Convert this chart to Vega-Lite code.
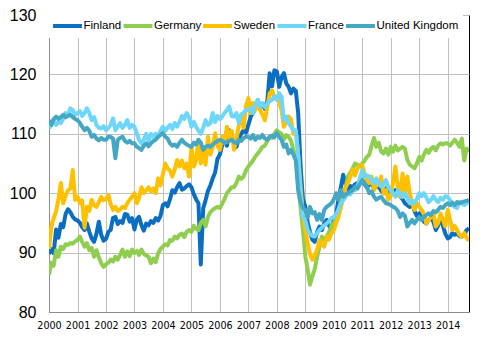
{
  "$schema": "https://vega.github.io/schema/vega-lite/v6.json",
  "width": 420,
  "height": 297,
  "autosize": {"type": "none"},
  "padding": {"left": 49, "top": 15, "right": 27, "bottom": 29},
  "background": "white",
  "config": {
    "view": {"stroke": "#000000", "strokeWidth": 1},
    "font": "Liberation Sans"
  },
  "data": {"values": [
    {"d":"2000-01","FI":89.8,"DE":86.3,"SE":90.6,"FR":110.9,"UK":112.3},
    {"d":"2000-02","FI":90.6,"DE":88.3,"SE":94.5,"FR":111.5,"UK":111.5},
    {"d":"2000-03","FI":89.9,"DE":87.8,"SE":95.8,"FR":112.3,"UK":112.5},
    {"d":"2000-04","FI":93.9,"DE":90.4,"SE":97.0,"FR":111.5,"UK":112.9},
    {"d":"2000-05","FI":92.5,"DE":89.3,"SE":98.9,"FR":112.0,"UK":112.5},
    {"d":"2000-06","FI":94.8,"DE":91.0,"SE":101.7,"FR":111.8,"UK":112.8},
    {"d":"2000-07","FI":94.3,"DE":90.6,"SE":98.3,"FR":112.5,"UK":113.2},
    {"d":"2000-08","FI":96.5,"DE":91.4,"SE":99.6,"FR":113.5,"UK":112.8},
    {"d":"2000-09","FI":97.3,"DE":91.3,"SE":100.5,"FR":113.2,"UK":113.0},
    {"d":"2000-10","FI":96.8,"DE":91.6,"SE":100.8,"FR":114.3,"UK":113.2},
    {"d":"2000-11","FI":96.0,"DE":91.5,"SE":103.9,"FR":114.0,"UK":112.8},
    {"d":"2000-12","FI":95.6,"DE":91.9,"SE":98.9,"FR":113.2,"UK":112.5},
    {"d":"2001-01","FI":95.4,"DE":92.1,"SE":99.4,"FR":113.5,"UK":112.3},
    {"d":"2001-02","FI":95.0,"DE":92.7,"SE":98.3,"FR":113.8,"UK":111.8},
    {"d":"2001-03","FI":94.3,"DE":91.8,"SE":98.8,"FR":113.0,"UK":111.2},
    {"d":"2001-04","FI":93.8,"DE":91.0,"SE":94.2,"FR":113.5,"UK":110.6},
    {"d":"2001-05","FI":94.9,"DE":91.6,"SE":97.7,"FR":114.3,"UK":111.0},
    {"d":"2001-06","FI":93.5,"DE":90.4,"SE":97.0,"FR":113.5,"UK":110.5},
    {"d":"2001-07","FI":92.4,"DE":90.8,"SE":98.9,"FR":112.3,"UK":109.5},
    {"d":"2001-08","FI":91.8,"DE":89.3,"SE":98.0,"FR":112.8,"UK":109.8},
    {"d":"2001-09","FI":93.2,"DE":90.4,"SE":97.7,"FR":111.5,"UK":109.2},
    {"d":"2001-10","FI":95.2,"DE":89.2,"SE":98.5,"FR":111.0,"UK":108.9},
    {"d":"2001-11","FI":93.0,"DE":88.2,"SE":99.4,"FR":110.9,"UK":109.3},
    {"d":"2001-12","FI":92.0,"DE":87.6,"SE":98.8,"FR":111.3,"UK":109.0},
    {"d":"2002-01","FI":92.3,"DE":88.0,"SE":99.0,"FR":110.6,"UK":109.0},
    {"d":"2002-02","FI":93.5,"DE":88.3,"SE":99.7,"FR":111.0,"UK":109.5},
    {"d":"2002-03","FI":93.8,"DE":88.8,"SE":98.2,"FR":111.5,"UK":109.5},
    {"d":"2002-04","FI":95.8,"DE":88.5,"SE":97.2,"FR":112.6,"UK":109.2},
    {"d":"2002-05","FI":96.0,"DE":89.3,"SE":97.7,"FR":110.6,"UK":105.9},
    {"d":"2002-06","FI":94.8,"DE":88.8,"SE":97.0,"FR":111.2,"UK":109.0},
    {"d":"2002-07","FI":95.3,"DE":89.6,"SE":97.2,"FR":111.8,"UK":109.3},
    {"d":"2002-08","FI":95.0,"DE":90.5,"SE":97.7,"FR":111.0,"UK":109.5},
    {"d":"2002-09","FI":96.5,"DE":89.3,"SE":97.5,"FR":111.5,"UK":108.8},
    {"d":"2002-10","FI":96.4,"DE":90.2,"SE":98.3,"FR":112.3,"UK":108.5},
    {"d":"2002-11","FI":95.2,"DE":89.4,"SE":98.9,"FR":111.0,"UK":108.8},
    {"d":"2002-12","FI":95.8,"DE":90.5,"SE":99.4,"FR":111.5,"UK":108.4},
    {"d":"2003-01","FI":93.9,"DE":89.9,"SE":100.0,"FR":111.2,"UK":108.4},
    {"d":"2003-02","FI":95.6,"DE":90.3,"SE":98.3,"FR":110.0,"UK":107.8},
    {"d":"2003-03","FI":96.0,"DE":89.6,"SE":99.2,"FR":109.0,"UK":107.6},
    {"d":"2003-04","FI":94.6,"DE":90.5,"SE":101.0,"FR":108.4,"UK":107.3},
    {"d":"2003-05","FI":93.7,"DE":89.8,"SE":100.0,"FR":109.0,"UK":108.0},
    {"d":"2003-06","FI":94.9,"DE":89.5,"SE":100.5,"FR":110.0,"UK":108.4},
    {"d":"2003-07","FI":94.6,"DE":89.3,"SE":101.0,"FR":108.8,"UK":107.9},
    {"d":"2003-08","FI":95.3,"DE":88.2,"SE":100.3,"FR":110.0,"UK":108.4},
    {"d":"2003-09","FI":95.0,"DE":89.0,"SE":100.8,"FR":109.5,"UK":108.8},
    {"d":"2003-10","FI":95.8,"DE":88.4,"SE":100.0,"FR":110.0,"UK":109.0},
    {"d":"2003-11","FI":95.4,"DE":89.9,"SE":102.5,"FR":109.5,"UK":109.5},
    {"d":"2003-12","FI":96.2,"DE":90.6,"SE":101.3,"FR":110.5,"UK":109.8},
    {"d":"2004-01","FI":98.0,"DE":91.0,"SE":103.3,"FR":111.2,"UK":110.1},
    {"d":"2004-02","FI":98.3,"DE":91.4,"SE":105.0,"FR":110.5,"UK":109.5},
    {"d":"2004-03","FI":97.8,"DE":91.2,"SE":104.2,"FR":111.0,"UK":109.2},
    {"d":"2004-04","FI":99.0,"DE":92.1,"SE":103.8,"FR":111.5,"UK":108.4},
    {"d":"2004-05","FI":100.5,"DE":92.0,"SE":102.8,"FR":110.8,"UK":108.0},
    {"d":"2004-06","FI":100.1,"DE":92.7,"SE":104.0,"FR":111.8,"UK":108.2},
    {"d":"2004-07","FI":101.0,"DE":92.4,"SE":105.6,"FR":111.2,"UK":107.8},
    {"d":"2004-08","FI":101.7,"DE":93.0,"SE":104.5,"FR":112.0,"UK":108.5},
    {"d":"2004-09","FI":100.6,"DE":93.2,"SE":105.5,"FR":113.0,"UK":109.0},
    {"d":"2004-10","FI":100.8,"DE":92.6,"SE":104.2,"FR":112.5,"UK":108.5},
    {"d":"2004-11","FI":101.2,"DE":93.5,"SE":105.0,"FR":113.5,"UK":108.2},
    {"d":"2004-12","FI":101.5,"DE":93.8,"SE":102.8,"FR":112.8,"UK":108.0},
    {"d":"2005-01","FI":101.0,"DE":93.5,"SE":107.8,"FR":111.2,"UK":107.8},
    {"d":"2005-02","FI":99.8,"DE":94.5,"SE":104.5,"FR":112.0,"UK":108.5},
    {"d":"2005-03","FI":99.0,"DE":94.0,"SE":105.5,"FR":111.2,"UK":108.2},
    {"d":"2005-04","FI":98.3,"DE":93.8,"SE":109.0,"FR":110.5,"UK":109.0},
    {"d":"2005-05","FI":88.0,"DE":95.0,"SE":105.0,"FR":110.0,"UK":108.5},
    {"d":"2005-06","FI":97.5,"DE":95.5,"SE":107.5,"FR":111.0,"UK":107.3},
    {"d":"2005-07","FI":98.8,"DE":94.4,"SE":104.8,"FR":112.3,"UK":107.8},
    {"d":"2005-08","FI":100.4,"DE":96.0,"SE":109.5,"FR":111.5,"UK":108.0},
    {"d":"2005-09","FI":101.3,"DE":96.8,"SE":106.5,"FR":111.8,"UK":107.8},
    {"d":"2005-10","FI":102.5,"DE":97.2,"SE":107.8,"FR":113.5,"UK":108.2},
    {"d":"2005-11","FI":103.5,"DE":97.5,"SE":110.1,"FR":112.0,"UK":108.5},
    {"d":"2005-12","FI":105.8,"DE":97.7,"SE":108.0,"FR":113.0,"UK":108.8},
    {"d":"2006-01","FI":106.5,"DE":97.5,"SE":107.3,"FR":112.5,"UK":109.0},
    {"d":"2006-02","FI":108.2,"DE":98.3,"SE":109.5,"FR":112.9,"UK":108.8},
    {"d":"2006-03","FI":109.0,"DE":99.0,"SE":108.5,"FR":113.5,"UK":108.5},
    {"d":"2006-04","FI":108.0,"DE":100.0,"SE":111.2,"FR":114.0,"UK":108.6},
    {"d":"2006-05","FI":110.6,"DE":100.5,"SE":109.2,"FR":114.6,"UK":108.8},
    {"d":"2006-06","FI":109.5,"DE":101.0,"SE":110.5,"FR":113.0,"UK":109.0},
    {"d":"2006-07","FI":108.8,"DE":101.0,"SE":107.3,"FR":112.9,"UK":108.6},
    {"d":"2006-08","FI":107.8,"DE":101.7,"SE":109.0,"FR":113.5,"UK":108.4},
    {"d":"2006-09","FI":109.2,"DE":102.8,"SE":111.5,"FR":111.8,"UK":109.0},
    {"d":"2006-10","FI":110.0,"DE":102.4,"SE":112.9,"FR":113.3,"UK":108.8},
    {"d":"2006-11","FI":110.6,"DE":102.8,"SE":111.0,"FR":113.5,"UK":109.3},
    {"d":"2006-12","FI":110.2,"DE":103.8,"SE":114.6,"FR":114.0,"UK":109.5},
    {"d":"2007-01","FI":111.5,"DE":104.5,"SE":116.0,"FR":114.0,"UK":109.5},
    {"d":"2007-02","FI":112.9,"DE":105.0,"SE":113.5,"FR":114.3,"UK":109.2},
    {"d":"2007-03","FI":113.5,"DE":105.5,"SE":115.2,"FR":113.5,"UK":109.8},
    {"d":"2007-04","FI":114.2,"DE":106.2,"SE":114.0,"FR":115.0,"UK":109.0},
    {"d":"2007-05","FI":115.7,"DE":106.7,"SE":115.5,"FR":115.7,"UK":109.5},
    {"d":"2007-06","FI":114.5,"DE":107.2,"SE":114.0,"FR":114.6,"UK":109.3},
    {"d":"2007-07","FI":115.1,"DE":107.8,"SE":113.2,"FR":115.1,"UK":109.8},
    {"d":"2007-08","FI":114.2,"DE":108.0,"SE":112.3,"FR":114.5,"UK":109.2},
    {"d":"2007-09","FI":115.5,"DE":108.8,"SE":114.5,"FR":115.1,"UK":109.0},
    {"d":"2007-10","FI":120.2,"DE":109.5,"SE":116.8,"FR":115.5,"UK":109.5},
    {"d":"2007-11","FI":118.0,"DE":109.3,"SE":117.3,"FR":115.7,"UK":109.7},
    {"d":"2007-12","FI":120.7,"DE":110.0,"SE":116.0,"FR":116.3,"UK":109.4},
    {"d":"2008-01","FI":120.5,"DE":110.6,"SE":116.3,"FR":115.7,"UK":110.1},
    {"d":"2008-02","FI":117.9,"DE":110.2,"SE":115.5,"FR":116.8,"UK":109.5},
    {"d":"2008-03","FI":119.5,"DE":110.0,"SE":114.0,"FR":116.3,"UK":109.0},
    {"d":"2008-04","FI":120.2,"DE":109.0,"SE":111.2,"FR":112.3,"UK":107.8},
    {"d":"2008-05","FI":118.5,"DE":109.8,"SE":112.0,"FR":112.9,"UK":108.2},
    {"d":"2008-06","FI":117.9,"DE":109.5,"SE":112.9,"FR":111.8,"UK":106.7},
    {"d":"2008-07","FI":116.8,"DE":108.8,"SE":112.5,"FR":111.2,"UK":107.3},
    {"d":"2008-08","FI":117.6,"DE":107.3,"SE":110.0,"FR":110.6,"UK":106.5},
    {"d":"2008-09","FI":117.2,"DE":106.0,"SE":110.5,"FR":110.6,"UK":105.5},
    {"d":"2008-10","FI":113.5,"DE":101.5,"SE":106.5,"FR":106.5,"UK":100.5},
    {"d":"2008-11","FI":104.5,"DE":97.5,"SE":101.0,"FR":100.0,"UK":98.5},
    {"d":"2008-12","FI":99.0,"DE":93.8,"SE":96.5,"FR":96.0,"UK":97.5},
    {"d":"2009-01","FI":97.7,"DE":89.3,"SE":93.8,"FR":95.5,"UK":97.2},
    {"d":"2009-02","FI":95.0,"DE":87.1,"SE":91.5,"FR":93.8,"UK":96.0},
    {"d":"2009-03","FI":93.5,"DE":84.6,"SE":89.8,"FR":93.2,"UK":97.7},
    {"d":"2009-04","FI":92.2,"DE":86.0,"SE":88.8,"FR":92.8,"UK":96.6},
    {"d":"2009-05","FI":91.8,"DE":87.2,"SE":89.5,"FR":92.7,"UK":96.8},
    {"d":"2009-06","FI":93.5,"DE":89.3,"SE":90.5,"FR":93.3,"UK":95.5},
    {"d":"2009-07","FI":94.4,"DE":91.0,"SE":92.1,"FR":93.8,"UK":96.5},
    {"d":"2009-08","FI":93.8,"DE":92.7,"SE":91.5,"FR":94.2,"UK":95.5},
    {"d":"2009-09","FI":95.0,"DE":92.2,"SE":91.0,"FR":94.6,"UK":97.2},
    {"d":"2009-10","FI":95.5,"DE":92.7,"SE":92.7,"FR":94.9,"UK":97.7},
    {"d":"2009-11","FI":94.5,"DE":93.5,"SE":92.2,"FR":95.3,"UK":98.0},
    {"d":"2009-12","FI":93.8,"DE":94.5,"SE":93.2,"FR":95.8,"UK":98.3},
    {"d":"2010-01","FI":95.5,"DE":95.0,"SE":93.8,"FR":96.0,"UK":99.0},
    {"d":"2010-02","FI":96.6,"DE":95.8,"SE":95.0,"FR":96.5,"UK":100.0},
    {"d":"2010-03","FI":98.9,"DE":97.2,"SE":96.0,"FR":97.2,"UK":98.9},
    {"d":"2010-04","FI":101.0,"DE":98.5,"SE":97.5,"FR":98.3,"UK":100.5},
    {"d":"2010-05","FI":103.1,"DE":99.4,"SE":99.4,"FR":98.8,"UK":99.4},
    {"d":"2010-06","FI":101.5,"DE":101.0,"SE":101.0,"FR":99.4,"UK":99.8},
    {"d":"2010-07","FI":100.5,"DE":102.8,"SE":101.7,"FR":100.0,"UK":100.0},
    {"d":"2010-08","FI":101.2,"DE":103.5,"SE":102.8,"FR":99.8,"UK":100.3},
    {"d":"2010-09","FI":101.0,"DE":104.2,"SE":104.0,"FR":100.5,"UK":100.5},
    {"d":"2010-10","FI":101.5,"DE":105.0,"SE":103.0,"FR":100.5,"UK":101.1},
    {"d":"2010-11","FI":101.7,"DE":104.8,"SE":104.2,"FR":101.2,"UK":100.8},
    {"d":"2010-12","FI":102.0,"DE":104.5,"SE":104.7,"FR":102.5,"UK":101.5},
    {"d":"2011-01","FI":102.2,"DE":105.0,"SE":104.7,"FR":103.9,"UK":102.2},
    {"d":"2011-02","FI":101.5,"DE":105.5,"SE":103.3,"FR":102.8,"UK":101.7},
    {"d":"2011-03","FI":101.0,"DE":106.1,"SE":102.2,"FR":103.0,"UK":101.1},
    {"d":"2011-04","FI":101.4,"DE":106.5,"SE":101.7,"FR":102.8,"UK":100.0},
    {"d":"2011-05","FI":101.7,"DE":108.0,"SE":102.8,"FR":102.2,"UK":100.3},
    {"d":"2011-06","FI":100.8,"DE":109.3,"SE":100.5,"FR":101.7,"UK":99.4},
    {"d":"2011-07","FI":101.1,"DE":107.8,"SE":101.3,"FR":102.5,"UK":98.9},
    {"d":"2011-08","FI":101.1,"DE":108.5,"SE":101.5,"FR":101.7,"UK":99.2},
    {"d":"2011-09","FI":100.4,"DE":107.0,"SE":102.8,"FR":101.1,"UK":99.4},
    {"d":"2011-10","FI":100.0,"DE":106.7,"SE":100.0,"FR":101.5,"UK":98.8},
    {"d":"2011-11","FI":100.8,"DE":107.5,"SE":100.5,"FR":102.2,"UK":98.3},
    {"d":"2011-12","FI":100.2,"DE":106.5,"SE":98.9,"FR":101.0,"UK":98.2},
    {"d":"2012-01","FI":100.2,"DE":107.8,"SE":99.5,"FR":100.5,"UK":98.0},
    {"d":"2012-02","FI":100.0,"DE":107.0,"SE":102.0,"FR":100.0,"UK":97.7},
    {"d":"2012-03","FI":100.5,"DE":108.0,"SE":104.5,"FR":99.4,"UK":97.5},
    {"d":"2012-04","FI":99.8,"DE":107.2,"SE":101.0,"FR":100.5,"UK":97.0},
    {"d":"2012-05","FI":99.5,"DE":107.5,"SE":99.4,"FR":99.8,"UK":96.0},
    {"d":"2012-06","FI":99.0,"DE":107.8,"SE":103.3,"FR":99.4,"UK":96.6},
    {"d":"2012-07","FI":98.3,"DE":107.5,"SE":99.7,"FR":100.0,"UK":96.2},
    {"d":"2012-08","FI":98.0,"DE":105.6,"SE":102.8,"FR":99.2,"UK":94.4},
    {"d":"2012-09","FI":97.7,"DE":104.8,"SE":100.0,"FR":98.3,"UK":95.0},
    {"d":"2012-10","FI":98.4,"DE":104.5,"SE":98.3,"FR":98.8,"UK":95.5},
    {"d":"2012-11","FI":97.0,"DE":104.2,"SE":97.2,"FR":98.3,"UK":94.9},
    {"d":"2012-12","FI":96.2,"DE":105.0,"SE":98.3,"FR":99.0,"UK":95.5},
    {"d":"2013-01","FI":96.6,"DE":106.1,"SE":97.8,"FR":100.0,"UK":96.0},
    {"d":"2013-02","FI":96.0,"DE":105.5,"SE":97.2,"FR":99.5,"UK":95.5},
    {"d":"2013-03","FI":95.2,"DE":106.5,"SE":96.5,"FR":100.0,"UK":96.0},
    {"d":"2013-04","FI":94.9,"DE":107.3,"SE":94.9,"FR":99.3,"UK":96.3},
    {"d":"2013-05","FI":95.5,"DE":106.8,"SE":95.5,"FR":98.5,"UK":96.6},
    {"d":"2013-06","FI":95.8,"DE":107.5,"SE":96.0,"FR":98.9,"UK":96.3},
    {"d":"2013-07","FI":95.2,"DE":107.8,"SE":96.6,"FR":99.5,"UK":97.0},
    {"d":"2013-08","FI":93.8,"DE":107.2,"SE":94.4,"FR":98.9,"UK":96.8},
    {"d":"2013-09","FI":94.6,"DE":108.0,"SE":95.0,"FR":98.5,"UK":97.2},
    {"d":"2013-10","FI":96.0,"DE":108.4,"SE":96.6,"FR":99.2,"UK":97.7},
    {"d":"2013-11","FI":94.5,"DE":108.2,"SE":95.5,"FR":98.9,"UK":97.5},
    {"d":"2013-12","FI":93.2,"DE":108.4,"SE":94.4,"FR":99.5,"UK":98.0},
    {"d":"2014-01","FI":92.4,"DE":108.4,"SE":97.2,"FR":99.4,"UK":98.3},
    {"d":"2014-02","FI":92.6,"DE":108.0,"SE":95.5,"FR":98.8,"UK":98.0},
    {"d":"2014-03","FI":93.3,"DE":108.5,"SE":93.8,"FR":98.0,"UK":98.4},
    {"d":"2014-04","FI":93.0,"DE":109.0,"SE":94.5,"FR":97.7,"UK":98.0},
    {"d":"2014-05","FI":93.2,"DE":108.5,"SE":93.8,"FR":97.5,"UK":98.5},
    {"d":"2014-06","FI":92.8,"DE":107.8,"SE":93.0,"FR":98.5,"UK":98.3},
    {"d":"2014-07","FI":92.7,"DE":109.2,"SE":92.7,"FR":98.3,"UK":98.5},
    {"d":"2014-08","FI":93.0,"DE":105.5,"SE":93.3,"FR":98.0,"UK":98.6},
    {"d":"2014-09","FI":93.8,"DE":107.5,"SE":92.5,"FR":98.3,"UK":98.7},
    {"d":"2014-10","FI":94.1,"DE":107.0,"SE":92.0,"FR":98.6,"UK":98.9}
  ]},
  "transform": [
    {"fold": ["FI", "DE", "SE", "FR", "UK"], "as": ["series", "value"]}
  ],
  "mark": {"type": "line", "strokeJoin": "round", "strokeCap": "butt", "clip": true},
  "encoding": {
    "x": {
      "field": "d",
      "type": "temporal",
      "scale": {
        "type": "utc",
        "domain": [
          {"year": 2000, "month": 1, "date": 1, "utc": true},
          {"year": 2014, "month": 10, "date": 1, "utc": true}
        ],
        "nice": false
      },
      "axis": {
        "title": null,
        "format": "%Y",
        "tickCount": "year",
        "grid": true,
        "gridColor": "#c0c0c0",
        "gridWidth": 1,
        "domainColor": "#8c8c8c",
        "domainWidth": 1,
        "ticks": false,
        "tickSize": 0,
        "labelPadding": 8,
        "labelFont": "DejaVu Sans",
        "labelFontSize": 9.6,
        "labelColor": "#000000",
        "labelOverlap": false,
        "labelFlush": false,
        "labelAlign": "center"
      }
    },
    "y": {
      "field": "value",
      "type": "quantitative",
      "scale": {"domain": [80, 130], "nice": false, "zero": false},
      "axis": {
        "title": null,
        "values": [80, 90, 100, 110, 120, 130],
        "grid": true,
        "gridColor": "#c0c0c0",
        "gridWidth": 1,
        "domainColor": "#8c8c8c",
        "domainWidth": 1,
        "ticks": false,
        "tickSize": 0,
        "labelPadding": 13,
        "labelFont": "Liberation Sans",
        "labelFontSize": 16,
        "labelColor": "#000000"
      }
    },
    "color": {
      "field": "series",
      "type": "nominal",
      "scale": {
        "domain": ["FI", "DE", "SE", "FR", "UK"],
        "range": ["#0a6fc2", "#8fce4e", "#ffc000", "#6dd6fb", "#44a8c4"]
      },
      "legend": {
        "title": null,
        "orient": "none",
        "legendX": 0,
        "legendY": 0,
        "direction": "horizontal",
        "columns": 5,
        "symbolType": "M-3,0H3",
        "symbolSize": 93,
        "symbolStrokeWidth": 4,
        "symbolOffset": 7.5,
        "labelFont": "Liberation Sans",
        "labelFontSize": 11.5,
        "labelColor": "#000000",
        "labelOffset": 9,
        "columnPadding": -6.5,
        "padding": 4,
        "fillColor": "white",
        "labelExpr": "datum.label == 'FI' ? 'Finland' : datum.label == 'DE' ? 'Germany' : datum.label == 'SE' ? 'Sweden' : datum.label == 'FR' ? 'France' : 'United Kingdom'"
      }
    },
    "strokeWidth": {
      "field": "series",
      "type": "nominal",
      "scale": {"domain": ["FI", "DE", "SE", "FR", "UK"], "range": [4, 4, 4, 4, 3]},
      "legend": null
    }
  }
}
